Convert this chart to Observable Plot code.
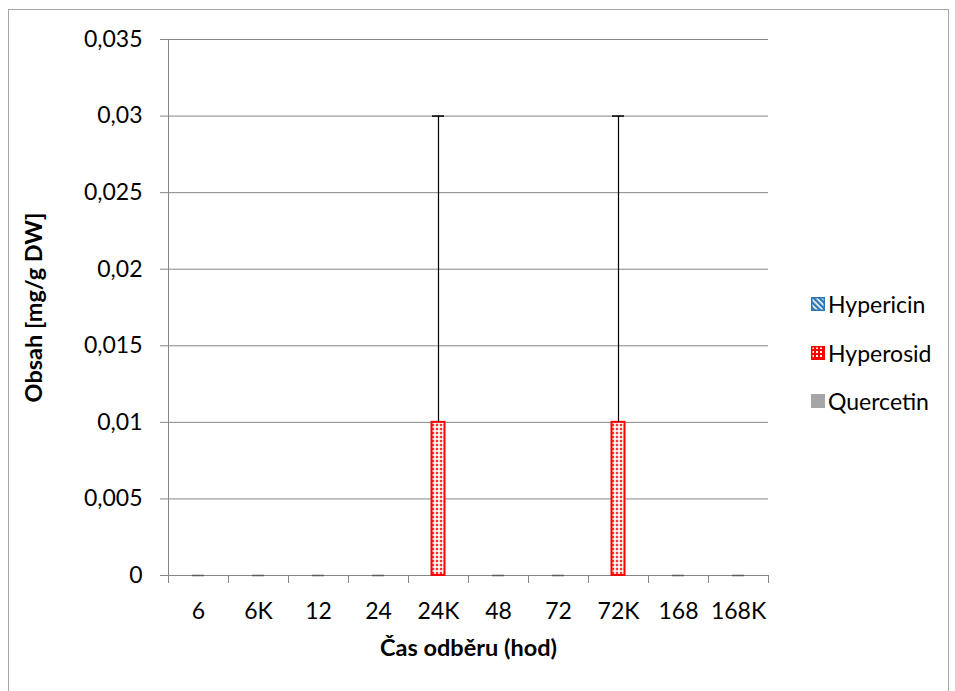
<!DOCTYPE html>
<html><head><meta charset="utf-8">
<script src="https://cdn.jsdelivr.net/npm/d3@7"></script>
<script src="https://cdn.jsdelivr.net/npm/@observablehq/plot@0.6"></script>
<style>
body{margin:0;background:#fff;font-family:Lato,"Open Sans",sans-serif;}
#wrap{position:relative;width:955px;height:691px;overflow:hidden;}
#chart{position:absolute;left:0;top:0;}
#chart svg text{fill:#000;}
#border{position:absolute;left:8px;top:9px;width:941px;height:720px;border:1px solid #a6a6a6;box-sizing:border-box;pointer-events:none;}
#legend{position:absolute;left:811px;top:280px;font-size:23px;color:#000;}
.item{display:flex;align-items:center;height:48.5px;}
.item svg{margin-right:3px;}
</style></head>
<body>
<svg width="0" height="0" style="position:absolute">
  <defs>
    <pattern id="dotsPat" width="4" height="4" patternUnits="userSpaceOnUse">
      <rect width="4" height="4" fill="#fbd6d6"/>
      <rect x="0" y="0" width="2" height="2" fill="#ff3030"/>
      <rect x="2" y="2" width="2" height="2" fill="#ffffff"/>
    </pattern>
    <pattern id="hypPat" width="4" height="4" patternUnits="userSpaceOnUse" patternTransform="rotate(45)">
      <rect width="4" height="4" fill="#2e75b6"/>
      <rect x="0" y="0" width="4" height="1.6" fill="#ffffff"/>
    </pattern>
    <pattern id="legDots" width="4" height="4" patternUnits="userSpaceOnUse">
      <rect width="4" height="4" fill="#ff0000"/>
      <rect x="1" y="1" width="2" height="2" fill="#ffffff"/>
    </pattern>
  </defs>
</svg>
<div id="wrap">
  <div id="chart"></div>
  <div id="border"></div>
  <div id="legend"></div>
</div>
<script>
const categories = ["6","6K","12","24","24K","48","72","72K","168","168K"];
const seriesNames = ["Hypericin","Hyperosid","Quercetin"];
const hypericin = [0,0,0,0,0,0,0,0,0,0];
const hyperosid = [0,0,0,0,0.01,0,0,0.01,0,0];
const hyperosidErr = [0,0,0,0,0.02,0,0,0.02,0,0];
const quercetin = [0,0,0,0,0,0,0,0,0,0];
const yTicks = [0,0.005,0.01,0.015,0.02,0.025,0.03,0.035];
const yTitle = "Obsah [mg/g DW]";
const xTitle = "Čas odběru (hod)";

const rows = categories.map((c,i)=>({cat:c, Hypericin:hypericin[i], Hyperosid:hyperosid[i], err:hyperosidErr[i], Quercetin:quercetin[i]}));
const fmt = d => d === 0 ? "0" : d3.format(".3~f")(d).replace(".", ",");
const grid = "#868686";

const plot = Plot.plot({
  width: 955, height: 691,
  marginLeft: 168, marginRight: 187, marginTop: 39, marginBottom: 116,
  style: {fontSize: "23px", fontFamily: 'Lato, "Open Sans", sans-serif', color: grid, background: "transparent"},
  x: {domain: categories, padding: 0, tickSize: 0, tickPadding: 27, label: null},
  y: {domain: [0, 0.035], ticks: yTicks, tickFormat: fmt, tickSize: 8, tickPadding: 18, line: true, label: null},
  marks: [
    Plot.ruleY(yTicks, {y: d => d, stroke: grid}),
    Plot.ruleX(categories, {x: d => d, dx: -30, y1: 0, y2: 0, insetBottom: -8, stroke: grid}),
    Plot.ruleX([categories[categories.length-1]], {x: d => d, dx: 30, y1: 0, y2: 0, insetBottom: -8, stroke: grid}),
    Plot.barY(rows, {filter: d => d.Hypericin > 0, x: "cat", y: "Hypericin", dx: -14, insetLeft: 23.5, insetRight: 23.5, fill: "url(#hypPat)", stroke: "#2e75b6", strokeWidth: 2}),
    Plot.barY(rows, {filter: d => d.Hyperosid > 0, x: "cat", y: "Hyperosid", insetLeft: 23.5, insetRight: 23.5, fill: "url(#dotsPat)", stroke: "#ff0000", strokeWidth: 2}),
    Plot.barY(rows, {filter: d => d.Quercetin > 0, x: "cat", y: "Quercetin", dx: 14, insetLeft: 23.5, insetRight: 23.5, fill: "#a6a6a6"}),
    Plot.ruleX(rows, {filter: d => d.err > 0, x: "cat", y1: "Hyperosid", y2: d => d.Hyperosid + d.err, stroke: "#000", strokeWidth: 1.2}),
    Plot.tickY(rows, {x: "cat", y: d => d.Hyperosid + d.err, insetLeft: 24, insetRight: 24, stroke: d => d.err > 0 ? "#000000" : "#5a5a5a", strokeWidth: 1.5}),
    Plot.text([yTitle], {text: d => d, frameAnchor: "left", textAnchor: "middle", lineAnchor: "middle", dx: -134, rotate: -90, fontWeight: "bold", fontSize: 23.5, fill: "#000"}),
    Plot.text([xTitle], {text: d => d, frameAnchor: "bottom", textAnchor: "middle", lineAnchor: "middle", dy: 73, fontWeight: "bold", fontSize: 23.5, fill: "#000"})
  ]
});
document.getElementById("chart").appendChild(plot);

const swatch = {
  Hypericin: '<svg width="14" height="14"><rect x="0.75" y="0.75" width="12.5" height="12.5" fill="url(#hypPat)" stroke="#2e75b6" stroke-width="1.5"/></svg>',
  Hyperosid: '<svg width="14" height="14"><rect x="0.75" y="0.75" width="12.5" height="12.5" fill="url(#legDots)" stroke="#ff0000" stroke-width="1.5"/></svg>',
  Quercetin: '<svg width="14" height="14"><rect x="0" y="0" width="14" height="14" fill="#a6a6a6"/></svg>'
};
document.getElementById("legend").innerHTML = seriesNames.map(s => `<div class="item">${swatch[s]}<span>${s}</span></div>`).join("");
</script>
</body></html>
